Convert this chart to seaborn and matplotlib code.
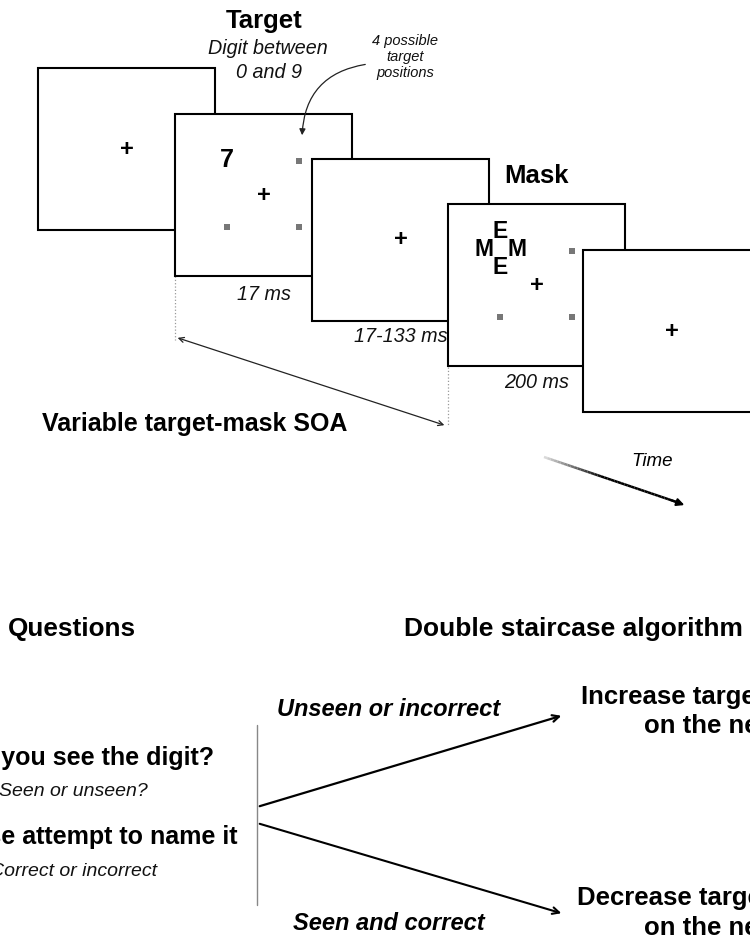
import matplotlib
matplotlib.use("Agg")
import matplotlib.pyplot as plt
import seaborn as sns
import numpy as np
import pandas as pd
from matplotlib.patches import Rectangle, FancyArrowPatch

# ---------------- data ----------------
panel_left = [38, 175, 312, 448, 583]
panel_top = [68, 114, 159, 204, 250]
panel_w = 177
panel_h = 162
panel_has_positions = [False, True, False, True, False]
durations = ["", "17 ms", "17-133 ms", "200 ms", ""]
duration_dy = [0, 18, 15, 17, 0]
pos_rel_x = [124, 52, 124]
pos_rel_y = [47, 113, 113]
mask_letters = ["E", "M", "M", "E"]
mask_rel_x = [52, 35.5, 69, 52]
mask_rel_y = [27, 46, 46, 64]
questions = ["Did you see the digit?", "Please attempt to name it"]
answers = ["Seen or unseen?", "Correct or incorrect"]
outcomes = ["Unseen or incorrect", "Seen and correct"]
actions = ["Increase target-mask SOA", "Decrease target-mask SOA"]

sns.set_theme(style="white")
plt.rcParams['font.family'] = ['Liberation Sans', 'DejaVu Sans']
plt.rcParams['text.color'] = '#000000'

fig = plt.figure(figsize=(7.5, 9.38), dpi=100)
ax = fig.add_axes([0, 0, 1, 1])

# panels
for i, (l, t) in enumerate(zip(panel_left, panel_top)):
    ax.add_patch(Rectangle((l, t), panel_w, panel_h, facecolor="white",
                           edgecolor="black", lw=1.5, zorder=2 + i * 3))
    ax.text(l + panel_w / 2, t + panel_h / 2, "+", fontsize=17, fontweight="bold",
            ha="center", va="center", zorder=3 + i * 3)
    if durations[i]:
        ax.text(l + panel_w / 2, t + panel_h + duration_dy[i], durations[i],
                fontsize=14.2, style="italic", ha="center", va="center", color="#111111")

# target positions (gray squares)
rows = []
for i, (l, t) in enumerate(zip(panel_left, panel_top)):
    if panel_has_positions[i]:
        for rx, ry in zip(pos_rel_x, pos_rel_y):
            rows.append({"x": l + rx, "y": t + ry, "panel": i})
pos_df = pd.DataFrame(rows)
sns.scatterplot(data=pos_df, x="x", y="y", marker="s", s=14, color="#777777",
                edgecolor="none", ax=ax, zorder=20, legend=False)
ax.set_xlim(0, 750)
ax.set_ylim(938, 0)
ax.axis("off")

# target digit
l2, t2 = panel_left[1], panel_top[1]
ax.text(l2 + 52, t2 + 46, "7", fontsize=18, fontweight="bold", ha="center", va="center", zorder=10)
# mask letters
l4, t4 = panel_left[3], panel_top[3]
for s, dx, dy in zip(mask_letters, mask_rel_x, mask_rel_y):
    ax.text(l4 + dx, t4 + dy, s, fontsize=16.5, fontweight="bold", ha="center", va="center", zorder=20)

# titles
ax.text(264, 21, "Target", fontsize=18.5, fontweight="bold", ha="center", va="center")
ax.text(268, 48, "Digit between", fontsize=14.2, style="italic", ha="center", va="center", color="#111111")
ax.text(269, 72, "0 and 9", fontsize=14.2, style="italic", ha="center", va="center", color="#111111")
ax.text(405, 57, "4 possible\ntarget\npositions", fontsize=10.5, style="italic", ha="center",
        va="center", linespacing=1.22, color="#111111")
ax.add_patch(FancyArrowPatch((368, 64), (302, 138), connectionstyle="arc3,rad=0.42",
                             arrowstyle="-|>", mutation_scale=9, lw=0.9, color="#222222", zorder=30))
ax.text(536, 176, "Mask", fontsize=18.5, fontweight="bold", ha="center", va="center")

# SOA
ax.plot([175, 175], [276, 340], ls=":", color="#999999", lw=0.9)
ax.plot([448, 448], [367, 426], ls=":", color="#999999", lw=0.9)
ax.add_patch(FancyArrowPatch((175, 337), (447, 426), arrowstyle="<->", mutation_scale=9,
                             lw=0.9, color="#222222"))
ax.text(42, 424, "Variable target-mask SOA", fontsize=18, fontweight="bold",
        ha="left", va="center")

# Time arrow with gradient
n = 40
xs = np.linspace(544, 678, n + 1)
ys = np.linspace(457, 502.5, n + 1)
for k in range(n):
    c = max(0.0, 0.85 - k * 0.05)
    ax.plot(xs[k:k + 2], ys[k:k + 2], color=(c, c, c), lw=1.8, solid_capstyle="butt")
ax.add_patch(FancyArrowPatch((668, 499), (687, 506), arrowstyle="-|>", mutation_scale=11,
                             lw=1.5, color="black"))
ax.text(652, 462, "Time", fontsize=13.5, style="italic", ha="center", va="center")

# bottom
ax.text(8, 629, "Questions", fontsize=18.8, fontweight="bold", ha="left", va="center")
ax.text(404, 629, "Double staircase algorithm", fontsize=19, fontweight="bold", ha="left", va="center")
ax.text(214, 758, questions[0], fontsize=18, fontweight="bold", ha="right", va="center")
ax.text(-1, 791, answers[0], fontsize=14, style="italic", ha="left", va="center", color="#111111")
ax.text(237, 837, questions[1], fontsize=18, fontweight="bold", ha="right", va="center")
ax.text(157, 872, answers[1], fontsize=14, style="italic", ha="right", va="center", color="#111111")

ax.plot([257, 257], [725, 905], color="#888888", lw=1)
ax.add_patch(FancyArrowPatch((257, 807), (564, 715), arrowstyle="->", mutation_scale=12, lw=1.6, color="black"))
ax.add_patch(FancyArrowPatch((257, 823), (564, 914), arrowstyle="->", mutation_scale=12, lw=1.5, color="black"))
ax.text(389, 710, outcomes[0], fontsize=17, fontweight="bold", style="italic",
        ha="center", va="center")
ax.text(389, 924, outcomes[1], fontsize=17, fontweight="bold", style="italic",
        ha="center", va="center")
ax.text(581, 697, actions[0], fontsize=18.5, fontweight="bold", ha="left", va="center")
ax.text(644, 726, "on the next trial", fontsize=18.5, fontweight="bold", ha="left", va="center")
ax.text(577, 898, actions[1], fontsize=18.5, fontweight="bold", ha="left", va="center")
ax.text(644, 928, "on the next trial", fontsize=18.5, fontweight="bold", ha="left", va="center")

fig.savefig("out.png", dpi=100, facecolor="white")
